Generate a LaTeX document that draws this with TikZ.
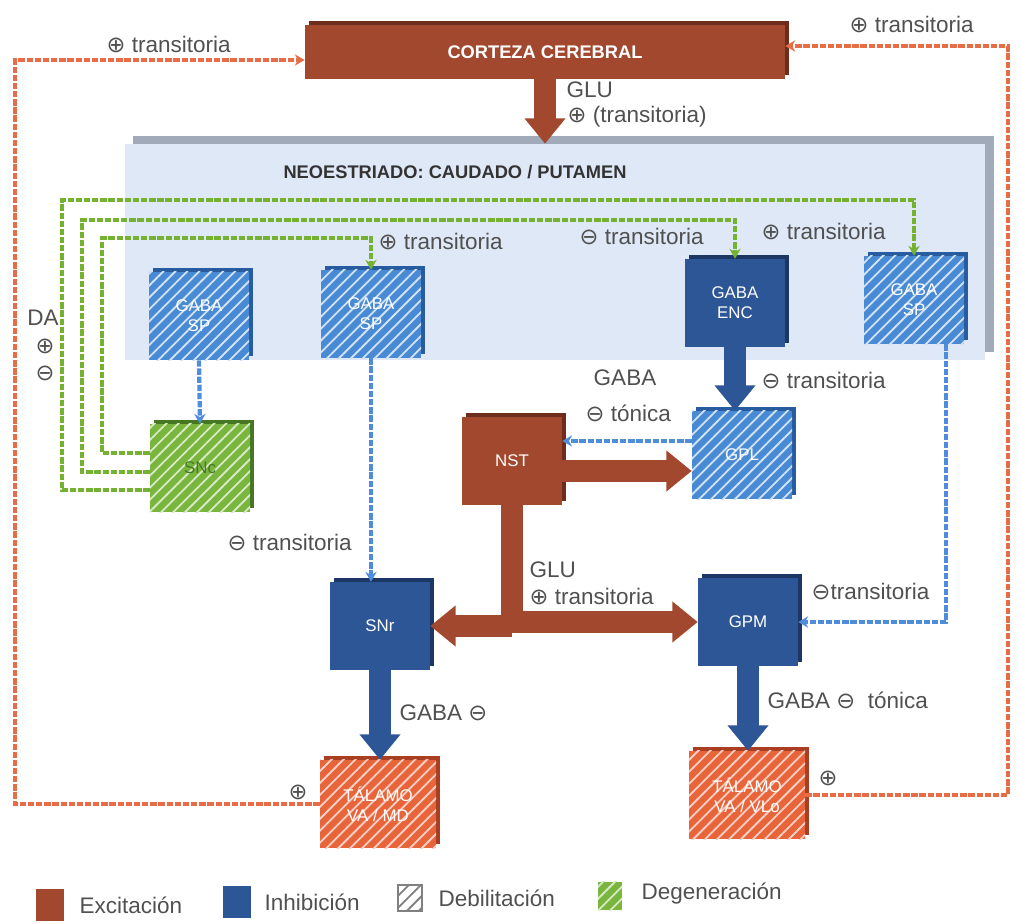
\documentclass[tikz,border=0pt]{standalone}
\usepackage{fontspec}
\setmainfont{Liberation Sans}
\newfontfamily\simbolo{DejaVu Sans}
\usetikzlibrary{arrows.meta, positioning, calc, shadows, patterns.meta}

\definecolor{excit}{RGB}{162,72,46}
\definecolor{excitosc}{RGB}{110,45,28}
\definecolor{inhib}{RGB}{45,86,150}
\definecolor{inhibosc}{RGB}{28,55,100}
\definecolor{debil}{RGB}{72,138,212}
\definecolor{debilosc}{RGB}{40,92,160}
\definecolor{talam}{RGB}{232,100,58}
\definecolor{talamosc}{RGB}{170,62,35}
\definecolor{degen}{RGB}{122,182,62}
\definecolor{degenosc}{RGB}{70,120,35}
\definecolor{panelazul}{RGB}{222,232,246}
\definecolor{panelgris}{RGB}{160,170,185}
\definecolor{naranja}{RGB}{232,108,70}
\definecolor{verdevia}{RGB}{118,178,50}
\definecolor{azulvia}{RGB}{80,140,220}
\definecolor{textgris}{RGB}{80,80,80}

\newcommand\mas{{\simbolo\fontsize{16}{16}\selectfont ⊕}}
\newcommand\menos{{\simbolo\fontsize{16}{16}\selectfont ⊖}}

\begin{document}
\begin{tikzpicture}[x=0.025cm, y=-0.025cm,
        font=\fontsize{16}{18}\selectfont,
        nucleo/.style  = {rectangle, minimum width=2.5cm, minimum height=2.2cm, align=center, text=white, font=\fontsize{12}{14}\selectfont, inner sep=1pt},
        exc/.style     = {nucleo, fill=excit, general shadow={fill=excitosc, shadow xshift=3pt, shadow yshift=3pt}},
        inh/.style     = {nucleo, fill=inhib, general shadow={fill=inhibosc, shadow xshift=3pt, shadow yshift=3pt}},
        rayas/.style   = {postaction={pattern={Lines[angle=45, distance=6pt, line width=1.3pt]}, pattern color=#1}},
        inhdeb/.style  = {nucleo, fill=debil, general shadow={fill=debilosc, shadow xshift=3pt, shadow yshift=3pt}, rayas=white!75!debil},
        talamo/.style  = {nucleo, fill=talam, minimum width=2.9cm, general shadow={fill=talamosc, shadow xshift=3pt, shadow yshift=3pt}, rayas=white!70!talam},
        degenbox/.style= {nucleo, fill=degen, general shadow={fill=degenosc, shadow xshift=3pt, shadow yshift=3pt}, rayas=white!70!degen, text=degenosc},
        panel/.style   = {rectangle, fill=panelazul, general shadow={fill=panelgris, shadow xshift=6pt, shadow yshift=6pt}},
        gruesa/.style  = {line width=15.5pt, -{Triangle[width=28pt, length=18pt]}},
        flechaexc/.style={gruesa, draw=excit},
        flechainh/.style={gruesa, draw=inhib},
        via/.style     = {line width=3pt, dash pattern=on 4.5pt off 1.3pt, -{Stealth[length=7pt, width=8pt]}},
        viaexc/.style  = {via, draw=naranja},
        viadeg/.style  = {via, draw=verdevia},
        viainh/.style  = {via, draw=azulvia},
        lbl/.style     = {anchor=west, inner sep=1pt, text=textgris},
        leyenda/.style = {rectangle, minimum width=0.7cm, minimum height=0.8cm, inner sep=0pt}
    ]
    \useasboundingbox (0,0) rectangle (1020,924);

    % --- CORTEZA ---
    \node[exc, minimum width=12cm, minimum height=1.35cm, font=\bfseries\fontsize{13}{15}\selectfont] (corteza) at (545,52) {CORTEZA CEREBRAL};

    % --- NEOESTRIADO ---
    \node[panel, minimum width=21.5cm, minimum height=5.4cm] (neo) at (555,252) {};
    \node[font=\bfseries\fontsize{13}{15}\selectfont, text=black!80] (titneo) at (455,172) {NEOESTRIADO: CAUDADO / PUTAMEN};

    \node[inhdeb] (sp1) at (199,316) {GABA\\SP};
    \node[inhdeb] (sp2) at (371,314) {GABA\\SP};
    \node[inh]    (enc) at (735,303) {GABA\\ENC};
    \node[inhdeb] (sp4) at (914,300) {GABA\\SP};

    % --- NUCLEOS ---
    \node[degenbox] (snc)    at (200,468) {SNc};
    \node[exc]      (nst)    at (512,461) {NST};
    \node[inhdeb]   (gpl)    at (742,455) {GPL};
    \node[inh]      (snr)    at (380,626) {SNr};
    \node[inh]      (gpm)    at (748,622) {GPM};
    \node[talamo]   (talmd)  at (378,804) {TÁLAMO\\VA / MD};
    \node[talamo]   (talvlo) at (747,795) {TÁLAMO\\VA / VLo};

    % --- VIAS GRUESAS ---
    \draw[flechaexc] (corteza.south) -- (corteza.south |- neo.north);
    \draw[flechaexc] ([yshift=-0.25cm]nst.east) -- ([yshift=-0.25cm]nst.east -| gpl.west);
    \draw[flechaexc] (nst.south) |- (gpm.west);
    \draw[flechaexc] (nst.south |- snr.east) -- (snr.east);
    \draw[flechainh] (enc.south) -- (enc.south |- gpl.north);
    \draw[flechainh] (snr.south) -- (snr.south |- talmd.north);
    \draw[flechainh] (gpm.south) -- (gpm.south |- talvlo.north);

    % --- RETORNO AL CORTEX ---
    \coordinate (izq) at (15,60);
    \coordinate (der) at (1008,46);
    \draw[viaexc] (talmd.west) -| (izq) -- (izq -| corteza.west);
    \draw[viaexc] (talvlo.east) -| (der) -- (der -| corteza.east);

    % --- DOPAMINA (SNc) ---
    \draw[viadeg] ([yshift=-0.55cm]snc.west) -| (62,200) -| (sp4.north);
    \draw[viadeg] ([yshift=-0.1cm]snc.west) -| (82,220) -| (enc.north);
    \draw[viadeg] ([yshift=0.375cm]snc.west) -| (102,238) -| (sp2.north);

    % --- VIAS GABA ---
    \draw[viainh] (sp1.south) -- (snc.north);
    \draw[viainh] (sp2.south) -- (sp2.south |- snr.north);
    \draw[viainh] ([xshift=0.8cm]sp4.south) |- (gpm.east);
    \draw[viainh] ([yshift=0.35cm]gpl.west) -- ([yshift=0.35cm]gpl.west -| nst.east);

    % --- ETIQUETAS ---
    \node[lbl] (l1)  at (105,45)  {\mas\ transitoria};
    \node[lbl] (l2)  at (848,25)  {\mas\ transitoria};
    \node[lbl] (l3)  at (565,90)  {GLU};
    \node[lbl] (l4)  at (566,117) {\mas\ (transitoria)};
    \node[lbl] (l5)  at (377,242) {\mas\ transitoria};
    \node[lbl] (l6)  at (578,237) {\menos\ transitoria};
    \node[lbl] (l7)  at (760,232) {\mas\ transitoria};
    \node[text=textgris, inner sep=1pt] (da)  at (43,318) {DA};
    \node[text=textgris, inner sep=1pt] (dam) at (45,346) {\mas};
    \node[text=textgris, inner sep=1pt] (dan) at (45,373) {\menos};
    \node[lbl] (l8)  at (226,543) {\menos\ transitoria};
    \node[text=textgris] (l9) at (625,378) {GABA};
    \node[lbl] (l10) at (584,413) {\menos\ tónica};
    \node[lbl] (l11) at (760,381) {\menos\ transitoria};
    \node[lbl] (l12) at (528,570) {GLU};
    \node[lbl] (l13) at (528,597) {\mas\ transitoria};
    \node[lbl] (l14) at (810,592) {\menos transitoria};
    \node[lbl] (l15) at (398,713) {GABA \menos};
    \node[lbl] (l16) at (766,700) {GABA \menos\ \ tónica};
    \node[text=textgris, inner sep=1pt] (l17) at (298,792) {\mas};
    \node[text=textgris, inner sep=1pt] (l18) at (828,778) {\mas};

    % --- LEYENDA ---
    \node[leyenda, fill=excit] (lexc) at (50,905) {};
    \node[lbl] (texc) at (78,905) {Excitación};
    \node[leyenda, fill=inhib] (linh) at (237,902) {};
    \node[lbl] (tinh) at (263,902) {Inhibición};
    \node[leyenda, draw=gray, thick, minimum width=0.6cm, minimum height=0.65cm, rayas=gray] (ldeb) at (410,898) {};
    \node[lbl] (tdeb) at (437,898) {Debilitación};
    \node[leyenda, fill=degen, minimum width=0.6cm, minimum height=0.7cm, rayas=white!70!degen] (ldeg) at (610,896) {};
    \node[lbl] (tdeg) at (640,894) {Degeneración};

\end{tikzpicture}
\end{document}
